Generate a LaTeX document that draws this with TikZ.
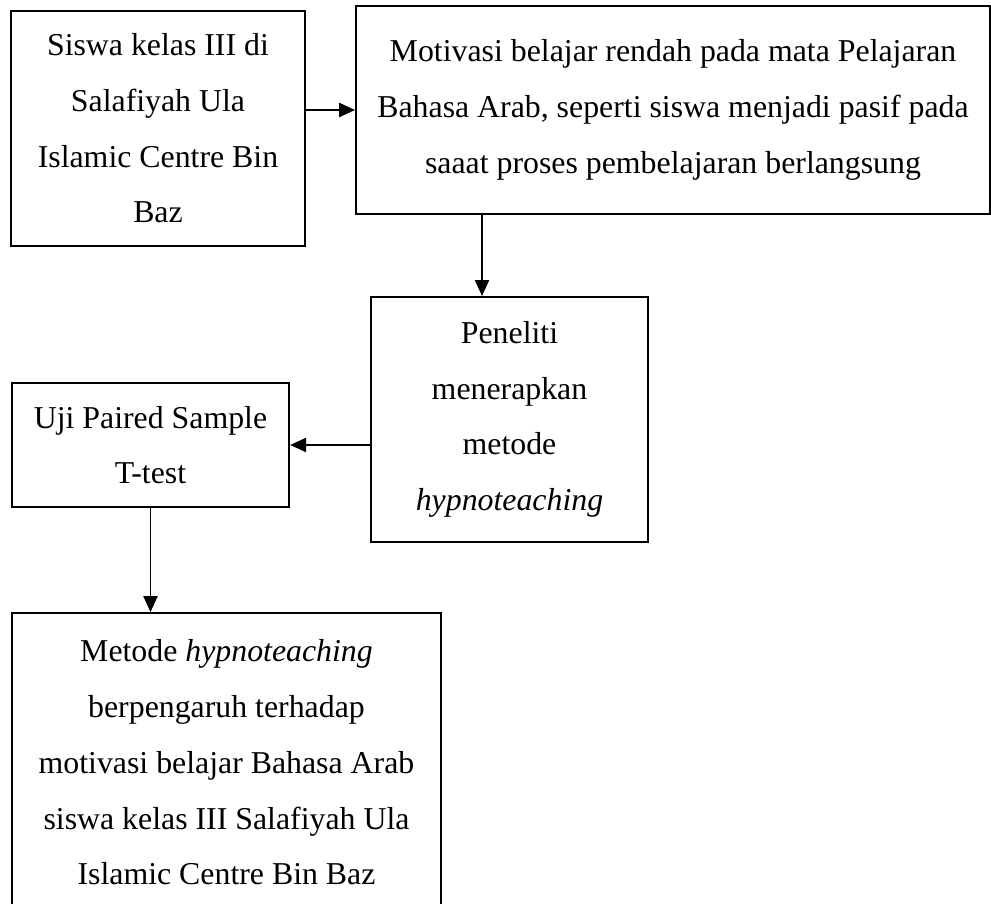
\documentclass[tikz,border=0pt]{standalone}
\usepackage{fontspec}
\setmainfont{Liberation Serif}
\usetikzlibrary{arrows.meta,positioning}
\tikzset{
  flowbox/.style={draw, line width=0.75pt, align=center, inner sep=0pt, font=\fontsize{12}{21}\selectfont},
  flowarrow/.style={-{Triangle[length=6pt,width=5.4pt]}, line width=0.4pt},
}
\begin{document}
\begin{tikzpicture}[x=0.377pt, y=-0.377pt]
\useasboundingbox (0,0) rectangle (991,904);
% boxes
\node[flowbox, minimum width=110.8pt, minimum height=88.6pt] (siswa) at (158,128.5) {Siswa kelas III di\\ Salafiyah Ula\\ Islamic Centre Bin\\ Baz};
\node[flowbox, minimum width=239pt, minimum height=78.4pt] (motivasi) at (673,110) {Motivasi belajar rendah pada mata Pelajaran\\ Bahasa Arab, seperti siswa menjadi pasif pada\\ saaat proses pembelajaran berlangsung};
\node[flowbox, minimum width=104.4pt, minimum height=92.4pt] (peneliti) at (509.5,419.5) {Peneliti\\ menerapkan\\ metode\\ \textit{hypnoteaching}};
\node[flowbox, minimum width=104.6pt, minimum height=46.7pt] (uji) at (150.5,445) {Uji Paired Sample\\ T-test};
\node[flowbox, minimum width=161.9pt, minimum height=112.7pt] (metode) at (226.5,762.5) {Metode \textit{hypnoteaching}\\ berpengaruh terhadap\\ motivasi belajar Bahasa Arab\\ siswa kelas III Salafiyah Ula\\ Islamic Centre Bin Baz};
% arrows
\coordinate (down1) at (482,0);
\draw[flowarrow] (siswa.east |- motivasi.west) -- (motivasi.west);
\draw[flowarrow] (motivasi.south -| down1) -- (peneliti.north -| down1);
\draw[flowarrow] (peneliti.west |- uji.east) -- (uji.east);
\draw[flowarrow] (uji.south) -- (uji.south |- metode.north);
\end{tikzpicture}
\end{document}
